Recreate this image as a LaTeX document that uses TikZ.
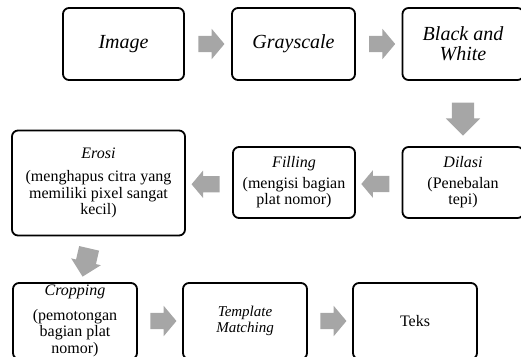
\documentclass[tikz,border=0pt]{standalone}
\usepackage{fontspec}
\setmainfont{Liberation Serif}
\usetikzlibrary{calc,positioning,shapes.arrows}
\definecolor{ink}{HTML}{000000}
\definecolor{arrowgray}{HTML}{A6A6A6}
\definecolor{paper}{HTML}{FFFFFF}
\tikzset{
  stepbox/.style={
    rectangle,
    rounded corners=6pt,
    draw=ink,
    line width=1.8pt,
    fill=paper,
    align=center,
    inner sep=0pt,
    text=ink
  },
  bigtext/.style={font=\fontsize{20}{20}\selectfont\itshape},
  smalltext/.style={font=\fontsize{16}{16.5}\selectfont},
  rarrow/.style={
    single arrow,
    fill=arrowgray,
    draw=none,
    inner xsep=0pt,
    inner ysep=8pt,
    single arrow head extend=7pt,
    single arrow tip angle=100,
    minimum height=26pt
  },
  larrow/.style={rarrow, single arrow head extend=5.5pt, minimum height=28pt, rotate=180},
  darrow/.style={
    rarrow,
    inner ysep=11pt,
    single arrow head extend=6pt,
    single arrow tip angle=90,
    minimum height=33pt,
    rotate=-90
  }
}

\begin{document}
\begin{tikzpicture}[x=1pt,y=-1pt]
  \useasboundingbox (0,0) rectangle (521,356);
  \clip (0,0) rectangle (521,356);

  % top row
  \node[stepbox, bigtext, minimum width=121pt, minimum height=72pt] (image) at (123.5,44) {Image};
  \node[stepbox, bigtext, minimum width=123pt, minimum height=72pt] (gray) at (293.5,44) {Grayscale};
  \node[stepbox, bigtext, minimum width=121pt, minimum height=72pt] (bw) at (463,44) {Black and\\White};

  % middle row
  \node[stepbox, smalltext, minimum width=173pt, minimum height=105pt] (erosi) at (98.5,183) {\textit{Erosi}\\[7pt](menghapus citra yang\\memiliki pixel sangat\\kecil)};
  \node[stepbox, smalltext, minimum width=122pt, minimum height=71pt] (filling) at (294,182.5) {\textit{Filling}\\[4pt](mengisi bagian\\plat nomor)};
  \node[stepbox, smalltext, minimum width=121pt, minimum height=71pt] (dilasi) at (463,182.5) {\textit{Dilasi}\\[4pt](Penebalan\\tepi)};

  % bottom row
  \node[stepbox, smalltext, minimum width=124pt, minimum height=76pt] (crop) at (75,321) {\textit{Cropping}\\[8pt](pemotongan\\bagian plat\\nomor)};
  \node[stepbox, font=\fontsize{15}{16}\selectfont\itshape, minimum width=124pt, minimum height=76pt] (tmatch) at (245,321) {Template\\Matching};
  \node[stepbox, smalltext, minimum width=124pt, minimum height=76pt] (teks) at (415,321) {Teks};

  % block arrows
  \node[rarrow] (imgtogray) at ($(image.east)!0.5!(gray.west)$) {};
  \node[rarrow] (graytobw) at ($(gray.east)!0.5!(bw.west)$) {};
  \node[darrow] (bwtodil) at ($(bw.south)!0.5!(dilasi.north)$) {};
  \node[larrow] (diltofill) at ($(filling.east)!0.5!(dilasi.west)+(0,1.5)$) {};
  \node[larrow] (filltoero) at ($(erosi.east)!0.5!(filling.west)+(0,1.5)$) {};
  \node[darrow, inner ysep=10pt, single arrow head extend=5pt, minimum height=29pt, rotate=-13] (erotocrop) at (87,257.5) {};
  \node[rarrow] (croptotm) at ($(crop.east)!0.5!(tmatch.west)$) {};
  \node[rarrow] (tmtoteks) at ($(tmatch.east)!0.5!(teks.west)$) {};
\end{tikzpicture}
\end{document}
